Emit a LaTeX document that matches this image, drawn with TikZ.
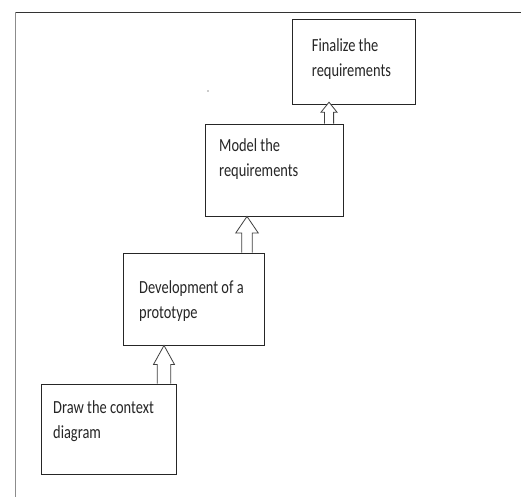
\documentclass[tikz,border=0pt]{standalone}
\usepackage{fontspec}
\newfontfamily\boxfont[FakeStretch=0.78]{Carlito}
\usetikzlibrary{calc}
\tikzset{
  box/.style={draw=black!85, line width=0.9pt, fill=white, inner sep=0pt},
  boxtext/.style={anchor=base west, align=left, inner sep=0pt, text=black!85,
    font=\boxfont\fontsize{18.5}{25}\selectfont},
  arrowline/.style={draw=black!75, line width=0.8pt, fill=white},
  frametop/.style={draw=black!80, line width=1pt},
  frameleft/.style={draw=black!45, line width=1pt}
}
% #1 bottom point, #2 tip point (its x is ignored), #3 shaft half width, #4 head half width, #5 head length
\newcommand{\hollowup}[5]{%
  \draw[arrowline] let \p1=(#1), \p2=(#2) in
    (\x1-#3,\y1) -- (\x1-#3,\y2-#5) -- (\x1-#4,\y2-#5) -- (\x1,\y2)
    -- (\x1+#4,\y2-#5) -- (\x1+#3,\y2-#5) -- (\x1+#3,\y1);}
\begin{document}
\begin{tikzpicture}[x=1pt,y=-1pt]
\useasboundingbox (0,0) rectangle (521,497);
\fill[white] (0,0) rectangle (521,497);
% frame
\coordinate (ftr) at (521,12.3);
\coordinate (fc) at (15,12.3);
\coordinate (fbl) at (15,497);
\draw[frametop] (ftr) -- (fc);
\draw[frameleft] (fc) -- (fbl);
% boxes
\node[box, minimum width=122.3pt, minimum height=85.3pt] (fin) at (353.8,61.7) {};
\node[box, minimum width=138pt, minimum height=92pt] (mod) at (274,170) {};
\node[box, minimum width=141pt, minimum height=92pt] (dev) at (193.5,299) {};
\node[box, minimum width=135pt, minimum height=90pt] (drw) at (108.5,429) {};
% texts (anchor = baseline of the last line)
\node[boxtext] (tfin) at (311.7,77) {Finalize the\\requirements};
\node[boxtext] (tmod) at (219,176) {Model the\\requirements};
\node[boxtext] (tdev) at (139,318) {Development of a\\prototype};
\node[boxtext] (tdrw) at (53,438) {Draw the context\\diagram};
% stray dot
\fill[black!40] (208,91) circle (0.9);
% arrows
\hollowup{$(drw.north)+(55.5,0)$}{dev.south}{6.7pt}{10.5pt}{19pt}
\hollowup{$(dev.north)+(53.5,0)$}{mod.south}{5.3pt}{11.3pt}{16.6pt}
\hollowup{$(mod.north)+(55,0)$}{$(fin.south)+(0,-2.6)$}{4.6pt}{8pt}{10pt}
\end{tikzpicture}
\end{document}
